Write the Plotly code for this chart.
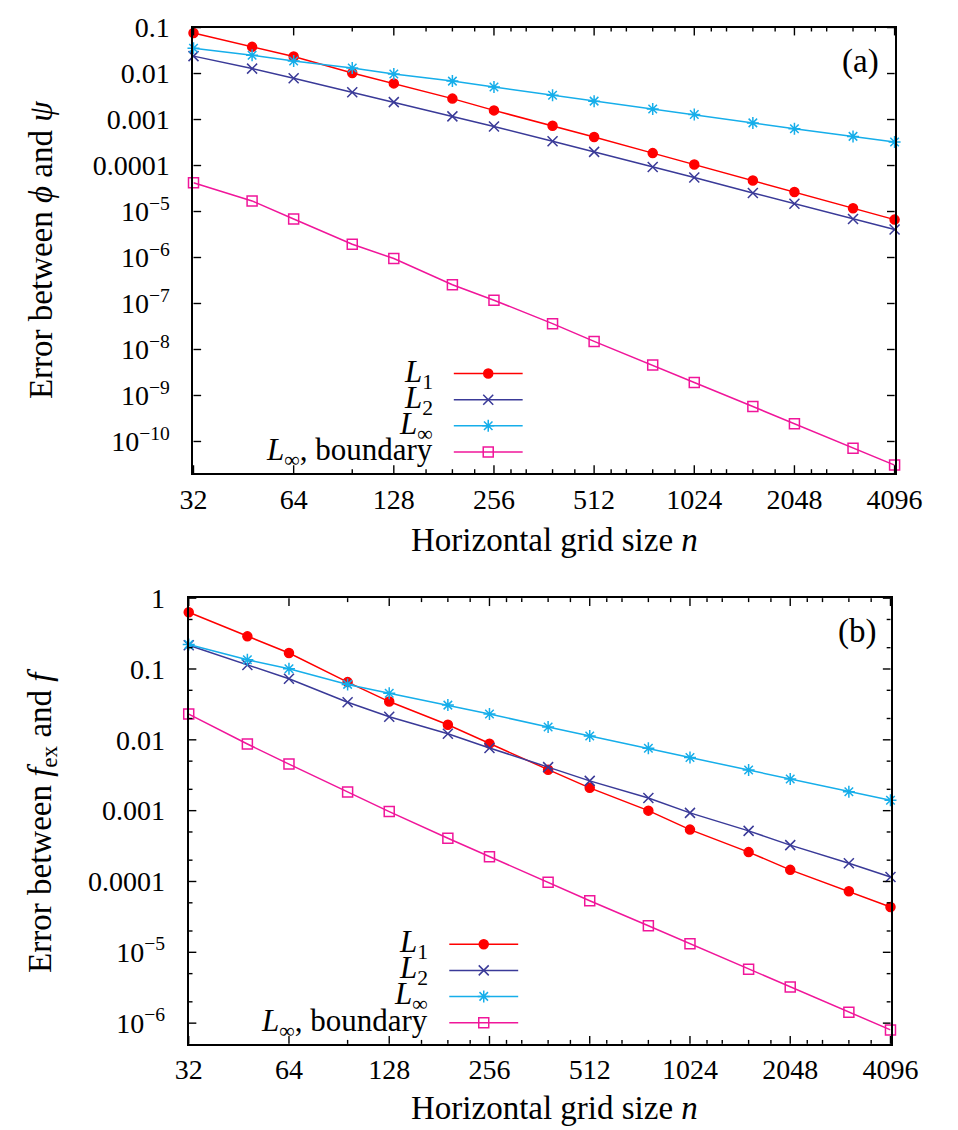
import math
import plotly.graph_objects as go

# Horizontal grid sizes
n = [32, 48, 64, 96, 128, 192, 256, 384, 512, 768, 1024, 1536, 2048, 3072, 4096]

# (a) error between phi and psi
a_L1 = [0.0759, 0.038, 0.0235, 0.0103, 0.0061, 0.00285, 0.00158, 7.3e-4, 4.17e-4,
        1.86e-4, 1.05e-4, 4.72e-5, 2.66e-5, 1.18e-5, 6.67e-6]
a_L2 = [0.0239, 0.0128, 0.0079, 0.0039, 0.00239, 0.00117, 7.05e-4, 3.36e-4, 1.98e-4,
        9.3e-5, 5.47e-5, 2.53e-5, 1.47e-5, 6.87e-6, 4.06e-6]
a_Linf = [0.0355, 0.025, 0.0187, 0.0132, 0.0098, 0.00684, 0.00508, 0.00337, 0.00251,
          0.00169, 0.00129, 8.45e-4, 6.3e-4, 4.3e-4, 3.24e-4]
a_bnd = [4.2e-5, 1.7e-5, 6.88e-6, 1.94e-6, 9.5e-7, 2.56e-7, 1.18e-7, 3.65e-8, 1.5e-8,
         4.58e-9, 1.92e-9, 5.75e-10, 2.44e-10, 7.1e-11, 3.07e-11]

# (b) error between f_ex and f
b_L1 = [0.632, 0.289, 0.168, 0.0653, 0.0347, 0.0163, 0.00883, 0.00379, 0.0021,
        0.001, 5.4e-4, 2.6e-4, 1.46e-4, 7.3e-5, 4.36e-5]
b_L2 = [0.217, 0.114, 0.0728, 0.034, 0.0212, 0.0122, 0.00768, 0.00412, 0.00263,
        0.00151, 9.3e-4, 5.18e-4, 3.26e-4, 1.81e-4, 1.16e-4]
b_Linf = [0.221, 0.135, 0.101, 0.0606, 0.0454, 0.0309, 0.0231, 0.0152, 0.0113,
          0.0076, 0.00563, 0.00374, 0.0028, 0.00185, 0.0014]
b_bnd = [0.0231, 0.00873, 0.00454, 0.00183, 9.7e-4, 4.08e-4, 2.24e-4, 9.75e-5, 5.35e-5,
         2.37e-5, 1.32e-5, 5.77e-6, 3.24e-6, 1.42e-6, 8.03e-7]

# Axis ticks
x_major = [32, 64, 128, 256, 512, 1024, 2048, 4096]
x_minor = [96, 160, 192, 224, 288, 320, 384, 448, 576, 640, 768, 896,
           1152, 1280, 1536, 1792, 2304, 2560, 3072, 3584]
a_yticks = [1e-1, 1e-2, 1e-3, 1e-4, 1e-5, 1e-6, 1e-7, 1e-8, 1e-9, 1e-10]
a_ylabels = ["0.1", "0.01", "0.001", "0.0001", "10<sup>−5</sup>", "10<sup>−6</sup>",
             "10<sup>−7</sup>", "10<sup>−8</sup>", "10<sup>−9</sup>", "10<sup>−10</sup>"]
b_yticks = [1, 1e-1, 1e-2, 1e-3, 1e-4, 1e-5, 1e-6]
b_ylabels = ["1", "0.1", "0.01", "0.001", "0.0001", "10<sup>−5</sup>", "10<sup>−6</sup>"]
b_yminor = [m * 10.0 ** k for k in range(-7, 0) for m in (2, 5)]

series_names = ["<i>L</i><sub>1</sub>", "<i>L</i><sub>2</sub>",
                "<i>L</i><sub>∞</sub>", "<i>L</i><sub>∞</sub>, boundary"]
colors = ["#ff0000", "#3a3a98", "#16aeea", "#f0169a"]
symbols = ["circle", "x-thin-open", "asterisk-open", "square-open"]
msizes = [9, 10, 10, 10]

W, H = 958, 1130
FONT = "Liberation Serif"
FS_TICK = 28
FS_TITLE = 33
FS_KEY = 31
EPS = 1e-4  # keeps edge markers inside the axis range
MAJOR_LEN, MINOR_LEN = 8, 4

# panel boxes in pixels: left, right, top, bottom
boxes = {
    "a": (187.7, 921.0, 12.7, 464.3),
    "b": (182.7, 916.7, 591.0, 1042.7),
}
xrange_log = [math.log10(32) - EPS, math.log10(4096) + EPS]
yranges = {"a": [math.log10(2.05e-11), -1 + EPS], "b": [math.log10(5.1e-7), 0 + EPS]}


def px_x(p):
    return p / W


def px_y(p):
    return 1 - p / H


def log_frac(v, rng):
    return (math.log10(v) - rng[0]) / (rng[1] - rng[0])


fig = go.Figure()

panels = [
    ("a", "x", "y", [a_L1, a_L2, a_Linf, a_bnd]),
    ("b", "x2", "y2", [b_L1, b_L2, b_Linf, b_bnd]),
]

for key, xa, ya, data in panels:
    for vals, name, c, s, ms in zip(data, series_names, colors, symbols, msizes):
        fig.add_trace(go.Scatter(
            x=n, y=vals, xaxis=xa, yaxis=ya, mode="lines+markers", name=name,
            showlegend=False, cliponaxis=False,
            line=dict(color=c, width=1.5),
            marker=dict(symbol=s, size=ms, color=c, line=dict(color=c, width=1.5)),
        ))

# key box (relative to each panel): sample line span, marker position, rows
key_x0, key_x1, key_xm = 0.3713, 0.4695, 0.4204
key_rows = [0.2235, 0.1648, 0.1065, 0.0474]
key_text_right = 0.344

for key, xa, ya in [("a", "x3", "y3"), ("b", "x4", "y4")]:
    for row, name, c, s, ms in zip(key_rows, series_names, colors, symbols, msizes):
        fig.add_trace(go.Scatter(
            x=[key_x0, key_x1], y=[row, row], xaxis=xa, yaxis=ya, mode="lines",
            showlegend=False, hoverinfo="skip", line=dict(color=c, width=1.5)))
        fig.add_trace(go.Scatter(
            x=[key_xm], y=[row], xaxis=xa, yaxis=ya, mode="markers",
            showlegend=False, hoverinfo="skip",
            marker=dict(symbol=s, size=ms, color=c, line=dict(color=c, width=1.5))))
        fig.add_annotation(x=key_text_right, y=row, xref=xa, yref=ya, text=name,
                           showarrow=False, xanchor="right", yanchor="middle",
                           font=dict(family=FONT, size=FS_KEY, color="black"))

main_axis = dict(
    showline=True, linecolor="black", linewidth=2, mirror=True, ticks="",
    showgrid=False, zeroline=False,
    tickfont=dict(family=FONT, size=FS_TICK, color="black"),
)

layout = dict(
    width=W, height=H, margin=dict(l=0, r=0, t=0, b=0),
    paper_bgcolor="white", plot_bgcolor="rgba(0,0,0,0)",
    font=dict(family=FONT, size=FS_TICK, color="black"),
)

for key, xname, yname, yt, yl, xa, ya in [
    ("a", "xaxis", "yaxis", a_yticks, a_ylabels, "x", "y"),
    ("b", "xaxis2", "yaxis2", b_yticks, b_ylabels, "x2", "y2"),
]:
    l, r, t, b = boxes[key]
    layout[xname] = dict(
        main_axis, type="log", domain=[px_x(l), px_x(r)], range=xrange_log,
        tickmode="array", tickvals=x_major, ticktext=[str(v) for v in x_major],
        ticklabelstandoff=0, anchor=ya,
    )
    layout[yname] = dict(
        main_axis, type="log", domain=[px_y(b), px_y(t)], range=yranges[key],
        tickmode="array", tickvals=yt, ticktext=yl, ticklabelstandoff=16,
        anchor=xa,
    )

# overlay axes used to place the key inside each panel
for key, xname, yname, xa, ya in [("a", "xaxis3", "yaxis3", "x3", "y3"),
                                  ("b", "xaxis4", "yaxis4", "x4", "y4")]:
    l, r, t, b = boxes[key]
    layout[xname] = dict(domain=[px_x(l), px_x(r)], range=[0, 1], visible=False,
                         anchor=ya, fixedrange=True)
    layout[yname] = dict(domain=[px_y(b), px_y(t)], range=[0, 1], visible=False,
                         anchor=xa, fixedrange=True)

fig.update_layout(**layout)

# inward tick marks on all four sides of each panel (paper coordinates)
tick_line = dict(color="black", width=1.4)
shapes = []
for key, yt, ymin in [("a", a_yticks, []), ("b", b_yticks, b_yminor)]:
    l, r, t, b = boxes[key]
    for vals, ln in [(x_major, MAJOR_LEN), (x_minor, MINOR_LEN)]:
        for v in vals:
            px = l + log_frac(v, xrange_log) * (r - l)
            for y_edge, sgn in [(b, -1), (t, 1)]:
                shapes.append(dict(type="line", xref="paper", yref="paper",
                                   x0=px_x(px), x1=px_x(px),
                                   y0=px_y(y_edge), y1=px_y(y_edge + sgn * ln),
                                   line=tick_line, layer="above"))
    for vals, ln in [(yt, MAJOR_LEN), (ymin, MINOR_LEN)]:
        for v in vals:
            f = log_frac(v, yranges[key])
            if f < -1e-6 or f > 1 + 1e-6:
                continue
            py = b - f * (b - t)
            for x_edge, sgn in [(l, 1), (r, -1)]:
                shapes.append(dict(type="line", xref="paper", yref="paper",
                                   x0=px_x(x_edge), x1=px_x(x_edge + sgn * ln),
                                   y0=px_y(py), y1=px_y(py),
                                   line=tick_line, layer="above"))
fig.update_layout(shapes=shapes)

# panel labels and axis titles
annots = [
    dict(x=px_x(885), y=px_y(46.7), text="(a)"),
    dict(x=px_x(881.7), y=px_y(625), text="(b)"),
    dict(x=px_x(565), y=px_y(532), text="Horizontal grid size <i>n</i>"),
    dict(x=px_x(565), y=px_y(1108), text="Horizontal grid size <i>n</i>"),
    dict(x=px_x(29), y=px_y(238.5), text="Error between <i>ϕ</i> and <i>ψ</i>",
         textangle=-90),
    dict(x=px_x(29), y=px_y(817), text="Error between <i>f</i><sub>ex</sub> and <i>f</i>",
         textangle=-90),
]
for an in annots:
    fig.add_annotation(xref="paper", yref="paper", showarrow=False,
                       xanchor="center", yanchor="middle",
                       font=dict(family=FONT, size=FS_TITLE, color="black"), **an)

fig.write_html("out.html", post_script="document.body.style.margin='0';")
